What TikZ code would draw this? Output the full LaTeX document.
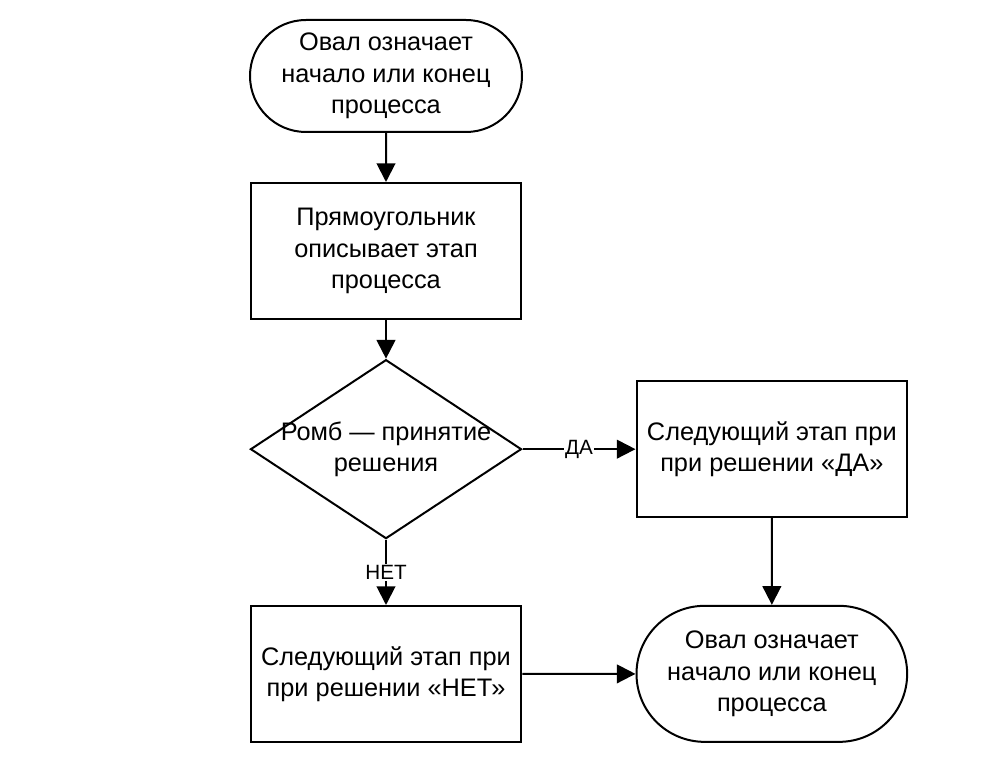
\documentclass[tikz,border=0pt]{standalone}
\usepackage{fontspec}
\setmainfont{Liberation Sans}
\usetikzlibrary{positioning,shapes.geometric,shapes.misc,arrows.meta}

\begin{document}
\begin{tikzpicture}[-{Triangle[length=14pt,width=14pt]},line width=1.5pt,
            every node/.style={font=\fontsize{19}{23.5}\selectfont},
            term node/.style={rounded rectangle,draw,align=center,inner sep=0pt},
            proc node/.style={rectangle,draw,align=center,inner sep=0pt,
                minimum width=203pt,minimum height=102pt},
            choice node/.style={diamond,draw,inner sep=0pt},
            edge label/.style={fill=white,inner sep=1pt,font=\fontsize{15.5}{18}\selectfont}]

        \useasboundingbox (-289.5pt,57pt) rectangle (457.5pt,-518.25pt);

        % Define vertices
        \node[term node,minimum width=204pt,minimum height=84pt] (start)
            {Овал означает\\начало или конец\\процесса};
        \node[proc node] (stage) [below=36.75pt of start]
            {Прямоугольник\\описывает этап\\процесса};
        \node[choice node,minimum width=203.25pt,minimum height=134.25pt] (choice)
            [below=29pt of stage] {};
        \node[align=center] (choicetext) at (choice.center) {Ромб — принятие\\решения};
        \node[proc node] (no) [below=49pt of choice]
            {Следующий этап при\\при решении «НЕТ»};
        \node[proc node] (yes) [right=84.75pt of choice]
            {Следующий этап при\\при решении «ДА»};
        \node[term node,minimum width=203pt,minimum height=102pt] (finish)
            [below=65pt of yes] {Овал означает\\начало или конец\\процесса};

        % Draw edges
        \path
            (start) edge (stage)
            (stage) edge (choice)
            (choice) edge node[edge label] {ДА} (yes)
            (choice) edge node[edge label] {НЕТ} (no)
            (yes) edge (finish)
            (no) edge (finish);

\end{tikzpicture}
\end{document}
